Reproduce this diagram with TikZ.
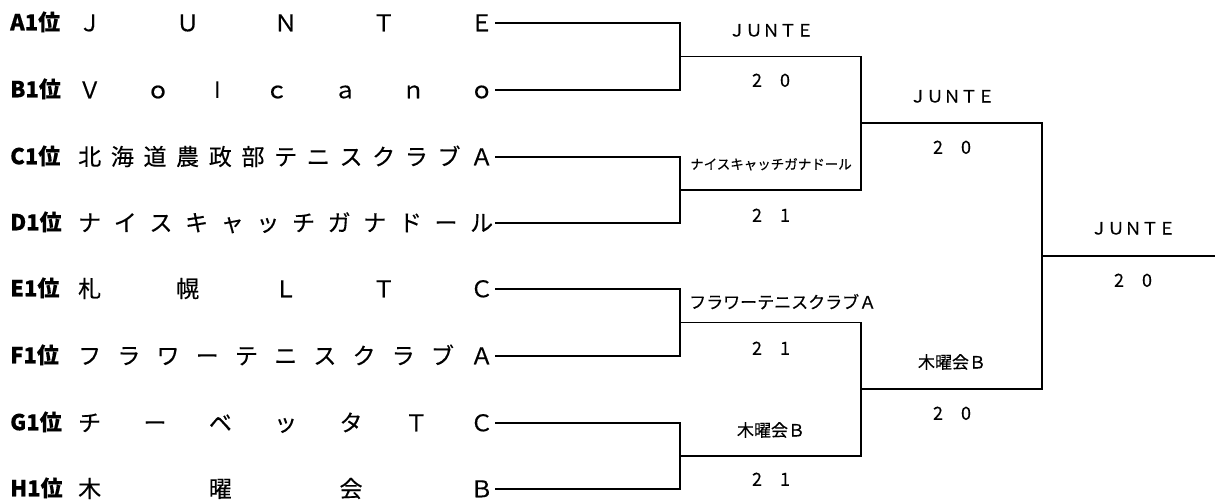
\documentclass[tikz,border=0pt]{standalone}
\usepackage{fontspec}
\setmainfont{Noto Sans CJK JP}[FakeBold=0.3]
\newfontfamily\latfont{Liberation Sans}
\begin{document}
\begin{tikzpicture}[x=1pt,y=-1pt]
\tikzset{
  seed/.style={anchor=west, inner sep=0pt, text height=17pt, text depth=2.5pt, font=\fontsize{22}{22}\selectfont\bfseries},
  team/.style={anchor=west, inner xsep=2pt, inner ysep=0pt, text height=19pt, text depth=2.5pt, font=\fontsize{23}{23}\selectfont},
  win/.style={inner sep=0pt, text height=15pt, text depth=2pt, font=\fontsize{17}{17}\selectfont},
  smallwin/.style={inner sep=0pt, text height=11.5pt, text depth=1pt, font=\fontsize{13.5}{13.5}\selectfont},
  score/.style={inner sep=0pt, text height=15pt, text depth=1.5pt, font=\fontsize{18}{18}\selectfont},
  bracket/.style={line width=1.6pt, line join=miter},
}
\useasboundingbox (0,0) rectangle (1215,501);
% seeds
\node[seed] (sA) at (10,23) {A1位};
\node[seed] (sB) at (10,90) {B1位};
\node[seed] (sC) at (10,157) {C1位};
\node[seed] (sD) at (10,223) {D1位};
\node[seed] (sE) at (10,289) {E1位};
\node[seed] (sF) at (10,356) {F1位};
\node[seed] (sG) at (10,423) {G1位};
\node[seed] (sH) at (10,489) {H1位};
% teams
\node[team] (tA) at (76,23) {\makebox[415pt][s]{Ｊ\hfill Ｕ\hfill Ｎ\hfill Ｔ\hfill Ｅ}};
\node[team] (tB) at (76,90) {\makebox[415pt][s]{Ｖ\hfill ｏ\hfill {\latfont l}\hfill ｃ\hfill ａ\hfill ｎ\hfill ｏ}};
\node[team] (tC) at (76,157) {\makebox[415pt][s]{北\hfill 海\hfill 道\hfill 農\hfill 政\hfill 部\hfill テ\hfill ニ\hfill ス\hfill ク\hfill ラ\hfill ブ\hfill Ａ}};
\node[team] (tD) at (76,223) {\makebox[415pt][s]{ナ\hfill イ\hfill ス\hfill キ\hfill ャ\hfill ッ\hfill チ\hfill ガ\hfill ナ\hfill ド\hfill ー\hfill ル}};
\node[team] (tE) at (76,289) {\makebox[415pt][s]{札\hfill 幌\hfill Ｌ\hfill Ｔ\hfill Ｃ}};
\node[team] (tF) at (76,356) {\makebox[415pt][s]{フ\hfill ラ\hfill ワ\hfill ー\hfill テ\hfill ニ\hfill ス\hfill ク\hfill ラ\hfill ブ\hfill Ａ}};
\node[team] (tG) at (76,423) {\makebox[415pt][s]{チ\hfill ー\hfill ベ\hfill ッ\hfill タ\hfill Ｔ\hfill Ｃ}};
\node[team] (tH) at (76,489) {\makebox[415pt][s]{木\hfill 曜\hfill 会\hfill Ｂ}};
% bracket junction points
\coordinate (jA) at (680,23);
\coordinate (jB) at (680,90);
\coordinate (jC) at (680,157);
\coordinate (jD) at (680,223);
\coordinate (jE) at (680,289);
\coordinate (jF) at (680,356);
\coordinate (jG) at (680,423);
\coordinate (jH) at (680,489);
\coordinate (mAB) at (680,56.5);
\coordinate (mCD) at (680,190);
\coordinate (mEF) at (680,322.5);
\coordinate (mGH) at (680,456);
\coordinate (rAB) at (861,56.5);
\coordinate (rCD) at (861,190);
\coordinate (rEF) at (861,322.5);
\coordinate (rGH) at (861,456);
\coordinate (mTop) at (861,123.25);
\coordinate (mBot) at (861,389.25);
\coordinate (fTop) at (1042,123.25);
\coordinate (fBot) at (1042,389.25);
\coordinate (fMid) at (1042,256.25);
\coordinate (champ) at (1215,256.25);
% connectors
\draw[bracket] (tA.east) -- (jA) -- (jB) -- (tB.east);
\draw[bracket] (tC.east) -- (jC) -- (jD) -- (tD.east);
\draw[bracket] (tE.east) -- (jE) -- (jF) -- (tF.east);
\draw[bracket] (tG.east) -- (jG) -- (jH) -- (tH.east);
\draw[bracket] (mAB) -- (rAB) -- (rCD) -- (mCD);
\draw[bracket] (mEF) -- (rEF) -- (rGH) -- (mGH);
\draw[bracket] (mTop) -- (fTop) -- (fBot) -- (mBot);
\draw[bracket] (fMid) -- (champ);
% round 1 results
\node[win] (w1) at (771,30) {ＪＵＮＴＥ};
\node[score] (s1) at (771,80) {2　0};
\node[smallwin] (w2) at (771,164) {ナイスキャッチガナドール};
\node[score] (s2) at (771,215) {2　1};
\node[win, anchor=west] (w3) at (689,302) {フラワーテニスクラブＡ};
\node[score] (s3) at (771,348) {2　1};
\node[win] (w4) at (771,430) {木曜会Ｂ};
\node[score] (s4) at (771,479) {2　1};
% round 2 results
\node[win] (w5) at (952,96) {ＪＵＮＴＥ};
\node[score] (s5) at (952,147) {2　0};
\node[win] (w6) at (952,362) {木曜会Ｂ};
\node[score] (s6) at (952,413) {2　0};
% final
\node[win] (w7) at (1133,228) {ＪＵＮＴＥ};
\node[score] (s7) at (1133,280) {2　0};
\end{tikzpicture}
\end{document}
